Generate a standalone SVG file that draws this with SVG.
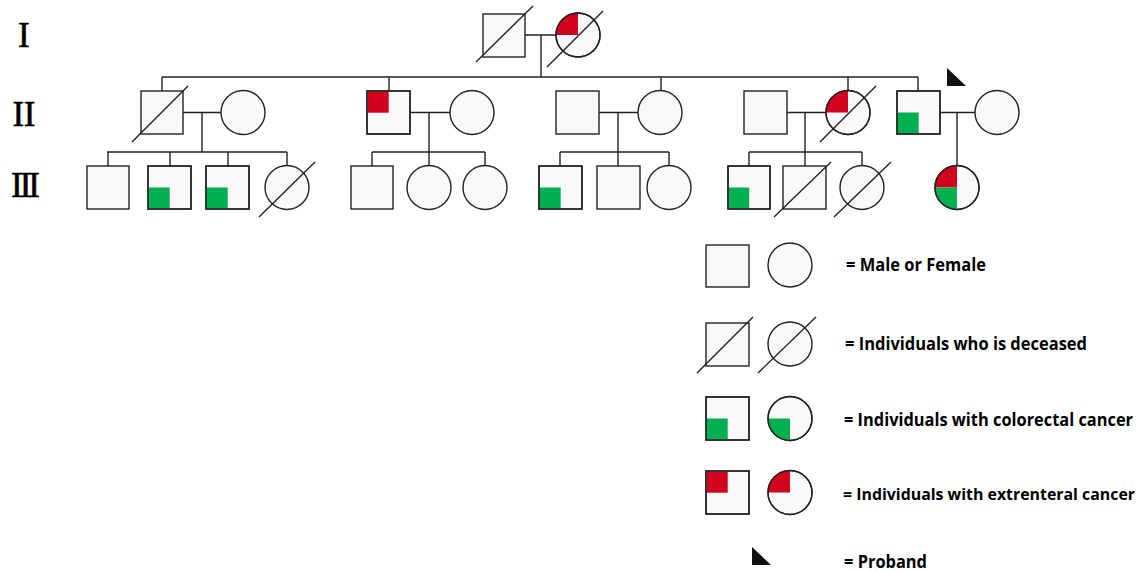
<svg xmlns="http://www.w3.org/2000/svg" width="1143" height="571" viewBox="0 0 1143 571">
<style>
.s{fill:#f9f9f9;stroke:#222;stroke-width:1.4}
.o{fill:none;stroke:#222;stroke-width:1.4}
.l{fill:none;stroke:#222;stroke-width:1.4}
.r{fill:#d2011d}
.g{fill:#00b050}
.gen{font-family:"Liberation Serif","Times New Roman",serif;font-size:35px;fill:#000;stroke:#000;stroke-width:0.6}
.t{font-family:"Open Sans","Liberation Sans",sans-serif;font-weight:bold;font-size:17px;fill:#000}
</style>
<rect width="1143" height="571" fill="#fff"/>
<g id="gen-labels">
<text class="gen" x="18" y="46.5">I</text>
<text class="gen" x="12.5" y="126" letter-spacing="-0.5">II</text>
<text class="gen" x="11" y="196.5" letter-spacing="-3">III</text>
</g>
<g id="connectors">
<path class="l" d="M525 35H556M541 35V77M162 77H918M162 77V91M389 77V91M661 77V90.5M848 77V90.5M918 77V91"/>
<path class="l" d="M183 112.5H221M202 112.5V152M107 152H287M108 152V166M170 152V166M228 152V166M287 152V165.5"/>
<path class="l" d="M410 112.5H450M429 112.5V152M372 152H485M372 152V166M429 152V165.5M485 152V165.5"/>
<path class="l" d="M599 112.5H638M618 112.5V152M560 152H669M560 152V166M618 152V166M669 152V165.5"/>
<path class="l" d="M787 112.5H826M805 112.5V152M749 152H862M749 152V166M805 152V166M862 152V165.5"/>
<path class="l" d="M940 112.5H975M957 112.5V165.5"/>
</g>
<g id="I-1"><rect class="s" x="483" y="14" width="42" height="43"/><path class="l" d="M476 62L533 6"/></g>
<g id="I-2"><circle class="s" cx="578" cy="35" r="22"/><path class="r" d="M578 35H556A22 22 0 0 1 578 13Z"/><circle class="o" cx="578" cy="35" r="22"/><path class="l" d="M547 67L603 11"/></g>
<g id="II-1"><rect class="s" x="141" y="91" width="42" height="43"/><path class="l" d="M132 142L188 86"/></g>
<g id="II-2"><circle class="s" cx="243" cy="112.5" r="22"/></g>
<g id="II-3"><rect class="s" x="367" y="91" width="43" height="43"/><rect class="r" x="367.7" y="91.7" width="21" height="21"/><rect class="o" x="367" y="91" width="43" height="43"/></g>
<g id="II-4"><circle class="s" cx="472" cy="112.5" r="22"/></g>
<g id="II-5"><rect class="s" x="556" y="91" width="43" height="43"/></g>
<g id="II-6"><circle class="s" cx="660" cy="112.5" r="22"/></g>
<g id="II-7"><rect class="s" x="744" y="91" width="43" height="43"/></g>
<g id="II-8"><circle class="s" cx="848" cy="112.5" r="22"/><path class="r" d="M848 112.5H826A22 22 0 0 1 848 90.5Z"/><circle class="o" cx="848" cy="112.5" r="22"/><path class="l" d="M820 142L876 86"/></g>
<g id="II-9"><rect class="s" x="897" y="91" width="43" height="43"/><rect class="g" x="897.7" y="112.5" width="21" height="20.8"/><rect class="o" x="897" y="91" width="43" height="43"/><path fill="#111" d="M947 68L947 86L966 86Z"/></g>
<g id="II-10"><circle class="s" cx="997" cy="112.5" r="22"/></g>
<g id="III-1"><rect class="s" x="87" y="166" width="42" height="43"/></g>
<g id="III-2"><rect class="s" x="148" y="166" width="43" height="43"/><rect class="g" x="148.7" y="187.5" width="21" height="20.8"/><rect class="o" x="148" y="166" width="43" height="43"/></g>
<g id="III-3"><rect class="s" x="206" y="166" width="43" height="43"/><rect class="g" x="206.7" y="187.5" width="21" height="20.8"/><rect class="o" x="206" y="166" width="43" height="43"/></g>
<g id="III-4"><circle class="s" cx="287" cy="187.5" r="22"/><path class="l" d="M259 217L315 162"/></g>
<g id="III-5"><rect class="s" x="351" y="166" width="42" height="43"/></g>
<g id="III-6"><circle class="s" cx="429" cy="187.5" r="22"/></g>
<g id="III-7"><circle class="s" cx="485" cy="187.5" r="22"/></g>
<g id="III-8"><rect class="s" x="539" y="166" width="43" height="43"/><rect class="g" x="539.7" y="187.5" width="21" height="20.8"/><rect class="o" x="539" y="166" width="43" height="43"/></g>
<g id="III-9"><rect class="s" x="597" y="166" width="43" height="43"/></g>
<g id="III-10"><circle class="s" cx="669" cy="187.5" r="22"/></g>
<g id="III-11"><rect class="s" x="728" y="166" width="42" height="43"/><rect class="g" x="728.7" y="187.5" width="20.5" height="20.8"/><rect class="o" x="728" y="166" width="42" height="43"/></g>
<g id="III-12"><rect class="s" x="783" y="166" width="43" height="43"/><path class="l" d="M774 217L831 162"/></g>
<g id="III-13"><circle class="s" cx="862" cy="187.5" r="22"/><path class="l" d="M834 217L891 162"/></g>
<g id="III-14"><circle class="s" cx="957" cy="187.5" r="22"/><path class="r" d="M957 187.5H935A22 22 0 0 1 957 165.5Z"/><path class="g" d="M957 187.5V209.5A22 22 0 0 1 935 187.5Z"/><circle class="o" cx="957" cy="187.5" r="22"/></g>
<g id="legend">
<rect class="s" x="706" y="245" width="43" height="42"/>
<circle class="s" cx="790" cy="265" r="22"/>
<text class="t" x="846" y="271" textLength="140" lengthAdjust="spacingAndGlyphs">= Male or Female</text>
<rect class="s" x="706" y="323" width="43" height="43"/>
<path class="l" d="M697 373L753 317"/>
<circle class="s" cx="790" cy="344" r="22"/>
<path class="l" d="M758 373L816 317"/>
<text class="t" x="845" y="350" textLength="242" lengthAdjust="spacingAndGlyphs">= Individuals who is deceased</text>
<rect class="s" x="706" y="397" width="43" height="43"/>
<rect class="g" x="706.7" y="418.5" width="21" height="20.8"/>
<rect class="o" x="706" y="397" width="43" height="43"/>
<circle class="s" cx="790" cy="418.5" r="22"/>
<path class="g" d="M790 418.5V440.5A22 22 0 0 1 768 418.5Z"/>
<circle class="o" cx="790" cy="418.5" r="22"/>
<text class="t" x="844" y="426" textLength="289" lengthAdjust="spacingAndGlyphs">= Individuals with colorectal cancer</text>
<rect class="s" x="706" y="471" width="43" height="43"/>
<rect class="r" x="706.7" y="471.7" width="21" height="21"/>
<rect class="o" x="706" y="471" width="43" height="43"/>
<circle class="s" cx="790" cy="492.5" r="22"/>
<path class="r" d="M790 492.5H768A22 22 0 0 1 790 470.5Z"/>
<circle class="o" cx="790" cy="492.5" r="22"/>
<text class="t" x="843" y="500" font-size="15.5" textLength="292" lengthAdjust="spacingAndGlyphs" style="font-size:15.5px">= Individuals with extrenteral cancer</text>
<path fill="#111" d="M752 547L752 565L771 565Z"/>
<text class="t" x="844" y="568" textLength="83" lengthAdjust="spacingAndGlyphs">= Proband</text>
</g>
</svg>
